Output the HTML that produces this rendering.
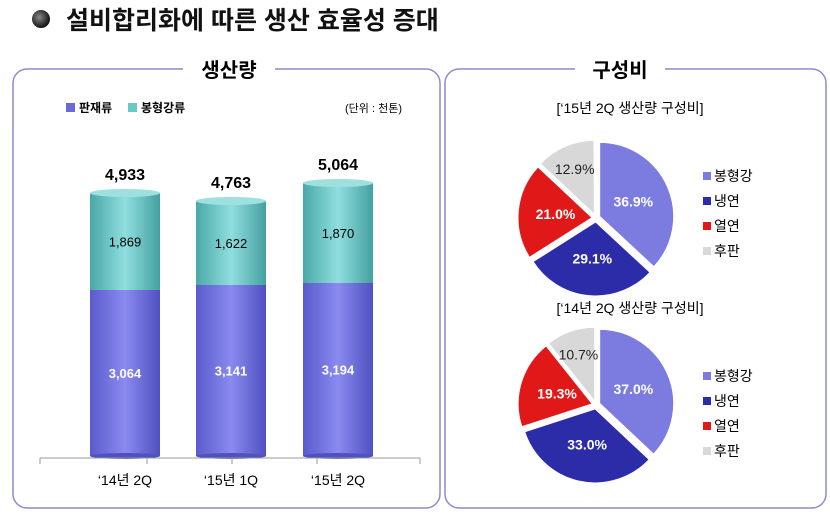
<!DOCTYPE html>
<html><head><meta charset="utf-8"><style>
body{margin:0;background:#fff;width:830px;height:516px;overflow:hidden;font-family:"Liberation Sans","Noto Sans CJK KR",sans-serif}
svg text{font-family:"Liberation Sans","Noto Sans CJK KR",sans-serif}
</style></head><body>
<svg id="s" width="830" height="516" xmlns="http://www.w3.org/2000/svg">
<defs>
<linearGradient id="pu" x1="0" x2="1"><stop offset="0" stop-color="#5a5acc"/><stop offset=".5" stop-color="#8a8af0"/><stop offset="1" stop-color="#5050c0"/></linearGradient>
<linearGradient id="te" x1="0" x2="1"><stop offset="0" stop-color="#4aa8a8"/><stop offset=".5" stop-color="#90dede"/><stop offset="1" stop-color="#45a0a0"/></linearGradient>
<radialGradient id="bl" cx=".4" cy=".4" r=".6"><stop offset="0" stop-color="#888"/><stop offset="1" stop-color="#111"/></radialGradient>
</defs>
<circle cx="41" cy="19" r="9" fill="url(#bl)"/>
<text x="66" y="29" font-size="25" font-weight="bold" fill="#111">설비합리화에 따른 생산 효율성 증대</text>
<rect x="13" y="69" width="427" height="439" rx="14" fill="none" stroke="#8c8cc8" stroke-width="1.5"/>
<rect x="183" y="58" width="92" height="24" fill="#fff"/>
<text x="229" y="77" font-size="20" font-weight="bold" text-anchor="middle">생산량</text>
<rect x="445" y="69" width="381" height="439" rx="14" fill="none" stroke="#8c8cc8" stroke-width="1.5"/>
<rect x="575" y="58" width="90" height="24" fill="#fff"/>
<text x="620" y="77" font-size="20" font-weight="bold" text-anchor="middle">구성비</text>
<rect x="66" y="103" width="9" height="9" fill="#6a6ad8"/>
<text x="79" y="112" font-size="12" font-weight="bold">판재류</text>
<rect x="128" y="103" width="9" height="9" fill="#6cc8c8"/>
<text x="141" y="112" font-size="12" font-weight="bold">봉형강류</text>
<text x="402" y="112" font-size="11" text-anchor="end">(단위 : 천톤)</text>
<g id="bars"></g>
<line x1="40" y1="458" x2="420" y2="458" stroke="#999"/>
<line x1="40" y1="458" x2="40" y2="464" stroke="#999"/><line x1="147" y1="458" x2="147" y2="464" stroke="#999"/><line x1="232" y1="458" x2="232" y2="464" stroke="#999"/><line x1="317" y1="458" x2="317" y2="464" stroke="#999"/><line x1="420" y1="458" x2="420" y2="464" stroke="#999"/>
<text x="125" y="485" font-size="14" text-anchor="middle">‘14년 2Q</text>
<text x="231" y="485" font-size="14" text-anchor="middle">‘15년 1Q</text>
<text x="338" y="485" font-size="14" text-anchor="middle">‘15년 2Q</text>
<text x="630" y="113" font-size="14" text-anchor="middle">[‘15년 2Q 생산량 구성비]</text>
<text x="630" y="313" font-size="14" text-anchor="middle">[‘14년 2Q 생산량 구성비]</text>
<g id="pies"></g>
</svg>
<script>
var NS="http://www.w3.org/2000/svg";
function el(p,t,a,txt){var e=document.createElementNS(NS,t);for(var k in a)e.setAttribute(k,a[k]);if(txt)e.textContent=txt;p.appendChild(e);return e;}
var B=document.getElementById("bars");
[[90,193,290,"4,933","1,869","3,064"],[196,201,285,"4,763","1,622","3,141"],[303,183,283,"5,064","1,870","3,194"]].forEach(function(b){
 var x=b[0],w=70;
 el(B,"rect",{x:x,y:b[1],width:w,height:b[2]-b[1],fill:"url(#te)"});
 el(B,"ellipse",{cx:x+w/2,cy:b[1],rx:w/2,ry:4,fill:"#9ee0e0"});
 el(B,"rect",{x:x,y:b[2],width:w,height:456-b[2],fill:"url(#pu)"});
 el(B,"ellipse",{cx:x+w/2,cy:456,rx:w/2,ry:3,fill:"#5050c0"});
 el(B,"text",{x:x+w/2,y:b[1]-13,"font-size":16,"font-weight":"bold","text-anchor":"middle"},b[3]);
 el(B,"text",{x:x+w/2,y:(b[1]+b[2])/2+5,"font-size":13,"text-anchor":"middle"},b[4]);
 el(B,"text",{x:x+w/2,y:(b[2]+456)/2+5,"font-size":13,"text-anchor":"middle",fill:"#fff","font-weight":"bold"},b[5]);
});
var P=document.getElementById("pies");
var cols=["#7b7be0","#2c2ca8","#e01818","#d8d8d8"],names=["봉형강","냉연","열연","후판"];
function pie(cx,cy,r,vals,ly){
 var a=-Math.PI/2,tot=100;
 vals.forEach(function(v,i){
  var da=v/tot*2*Math.PI,m=a+da/2,ox=4*Math.cos(m),oy=4*Math.sin(m);
  var x0=cx+ox+r*Math.cos(a),y0=cy+oy+r*Math.sin(a),x1=cx+ox+r*Math.cos(a+da),y1=cy+oy+r*Math.sin(a+da);
  el(P,"path",{d:"M"+(cx+ox)+","+(cy+oy)+"L"+x0+","+y0+"A"+r+","+r+" 0 "+(da>Math.PI?1:0)+" 1 "+x1+","+y1+"Z",fill:cols[i],stroke:"#fff","stroke-width":1});
  var tr=i==3?r*0.72:r*0.55;
  el(P,"text",{x:cx+tr*Math.cos(m),y:cy+tr*Math.sin(m)+5,"font-size":14,"font-weight":i==3?"normal":"bold","text-anchor":"middle",fill:i==3?"#222":"#fff"},v.toFixed(1)+"%");
  a+=da;
 });
 names.forEach(function(n,i){
  el(P,"rect",{x:703,y:ly+i*25-9,width:8,height:8,fill:cols[i]});
  el(P,"text",{x:714,y:ly+i*25,"font-size":14},n);
 });
}
pie(596,218,74,[36.9,29.1,21.0,12.9],181);
pie(596,405,74,[37.0,33.0,19.3,10.7],381);
</script>
</body></html>
